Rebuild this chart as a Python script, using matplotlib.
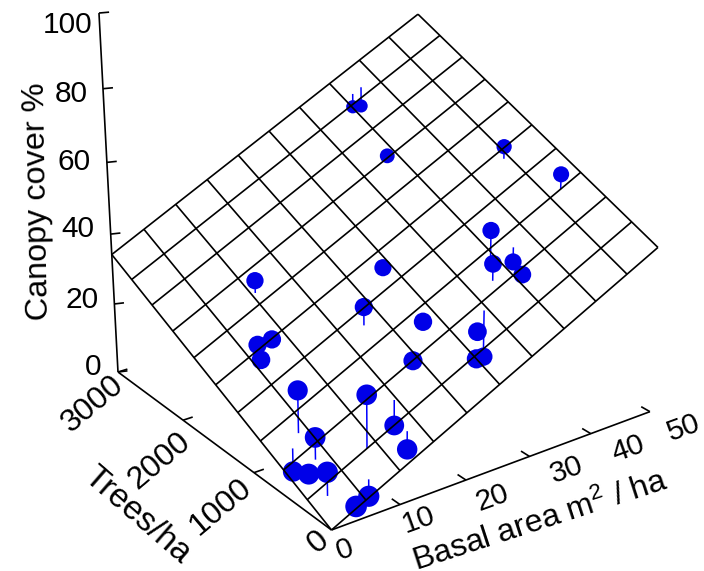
import matplotlib
matplotlib.use("Agg")
import matplotlib.pyplot as plt
import numpy as np

plt.rcParams["font.family"] = ["Liberation Sans", "DejaVu Sans"]
plt.rcParams["mathtext.default"] = "regular"

basal_area = [37.65, 36.25, 33.7, 44.35, 46.7, 34.6, 32.75, 37.4, 35.85, 24.0,
              17.75, 23.25, 27.25, 29.55, 25.0, 19.3, 8.8, 14.7, 13.5, 6.7,
              3.8, 6.7, 8.4, 5.9, 3.9, 3.5, 2.3, 1.9, 2.0, 10.45]
trees_ha = [2781, 2780, 2096, 1424, 900, 844, 676, 779, 554, 1357,
            1085, 788, 437, 534, 275, 595, 303, 453, 197, 108,
            20, 1535, 1492, 1418, 749, 498, 685, 446, 219, 1901]
canopy = [60.9, 61.3, 55.6, 60.3, 57.2, 48.5, 42.4, 39.2, 39.3, 37.7,
          33.7, 30.4, 30.0, 20.5, 26.1, 24.6, 25.8, 11.7, 9.7, 2.8,
          3.4, 23.7, 24.8, 21.6, 23.7, 14.9, 3.6, 6.8, 10.7, 34.7]

x_ticks = [0, 10, 20, 30, 40, 50]
y_ticks = [0, 1000, 2000, 3000]
z_ticks = [0, 20, 40, 60, 80, 100]

# fitted regression plane, cover = slope_x * basal + slope_y * trees
slope_x = 0.918
slope_y = 0.0114

# camera, fitted by hand from the axes ends and grid corners
origin = np.array([331.5, 530.0])
ax_u = np.array([349.0, -129.7])
ax_v = np.array([-243.4, -180.1])
ax_w = np.array([-4.7, -371.5])


def project(x, y, z):
    u = np.asarray(x, dtype=float) / 50
    v = np.asarray(y, dtype=float) / 3000
    w = np.asarray(z, dtype=float) / 100
    d = 1 + 0.096 * u + 0.14 * v - 0.073 * w
    sx = origin[0] + (u * ax_u[0] + v * ax_v[0] + w * ax_w[0]) / d
    sy = origin[1] + (u * ax_u[1] + v * ax_v[1] + w * ax_w[1]) / d
    return sx, sy


def plane(x, y):
    return slope_x * np.asarray(x, dtype=float) + slope_y * np.asarray(y, dtype=float)


def line3d(ax, xs, ys, zs, color="black", lw=1.2, zorder=4):
    sx, sy = project(xs, ys, zs)
    ax.plot(sx, sy, color=color, lw=lw, zorder=zorder, solid_capstyle="butt")


fig = plt.figure(figsize=(7.04, 5.71), dpi=100)
ax = fig.add_axes([0, 0, 1, 1])
ax.set_xlim(0, 704)
ax.set_ylim(571, 0)
ax.axis("off")

# points and their residual stems
xs = np.array(basal_area)
ys = np.array(trees_ha)
zs = np.array(canopy)
for x, y, z in zip(xs, ys, zs):
    line3d(ax, [x, x], [y, y], [z, plane(x, y)], color="#0000FF", lw=1.1, zorder=2)
sx, sy = project(xs, ys, zs)
radius = 11 - 3 * ys / 3000 - 2.2 * xs / 50
ax.scatter(sx, sy, s=(2 * radius * 0.72) ** 2, color="#0000E8", linewidths=0, zorder=3)

# grid on the plane
for x in np.arange(0, 51, 5):
    line3d(ax, [x, x], [0, 3000], plane([x, x], [0, 3000]))
for y in np.arange(0, 3001, 300):
    line3d(ax, [0, 50], [y, y], plane([0, 50], [y, y]))

# axes
line3d(ax, [0, 50], [0, 0], [0, 0])
line3d(ax, [0, 0], [0, 3000], [0, 0])
line3d(ax, [0, 0], [3000, 3000], [0, 100])
for t in x_ticks[1:]:
    line3d(ax, [t, t], [0, 100], [0, 0])
for t in y_ticks[1:]:
    line3d(ax, [0, 1.45], [t, t], [0, 0])
for t in z_ticks:
    line3d(ax, [0, 1.2], [3000, 2973], [t, t])

# tick labels, nudged off the axes as in the original
x_off = [(13.5, 20), (18.7, 15), (26.7, 18), (37, 13), (37, 15), (33.5, 16)]
y_off = [(-13, 12), (-33, 34), (-24, 41), (-25, 32)]
z_off = [(-25, -5), (-32, -4), (-33, -5), (-33, 0), (-32, 5), (-31, 12)]
for t, (dx, dy) in zip(x_ticks, x_off):
    px, py = project(t, 0, 0)
    ax.text(px + dx, py + dy, str(t), fontsize=21.5, rotation=20, ha="center", va="center", rotation_mode="anchor")
for t, (dx, dy) in zip(y_ticks, y_off):
    px, py = project(0, t, 0)
    ax.text(px + dx, py + dy, str(t), fontsize=23, rotation=40, ha="center", va="center", rotation_mode="anchor")
for t, (dx, dy) in zip(z_ticks, z_off):
    px, py = project(0, 3000, t)
    ax.text(px + dx, py + dy, str(t), fontsize=21.5, ha="center", va="center", rotation_mode="anchor")

ax.text(38, 201, "Canopy cover %", fontsize=23.3, rotation=91, ha="center", va="center", rotation_mode="anchor")
ax.text(136.7, 515, "Trees/ha", fontsize=24, rotation=-41, ha="center", va="center", rotation_mode="anchor")
ax.text(540, 522, r"Basal area m$^2$ / ha", fontsize=23, rotation=18, ha="center", va="center", rotation_mode="anchor")

fig.savefig("out.png", dpi=100)
